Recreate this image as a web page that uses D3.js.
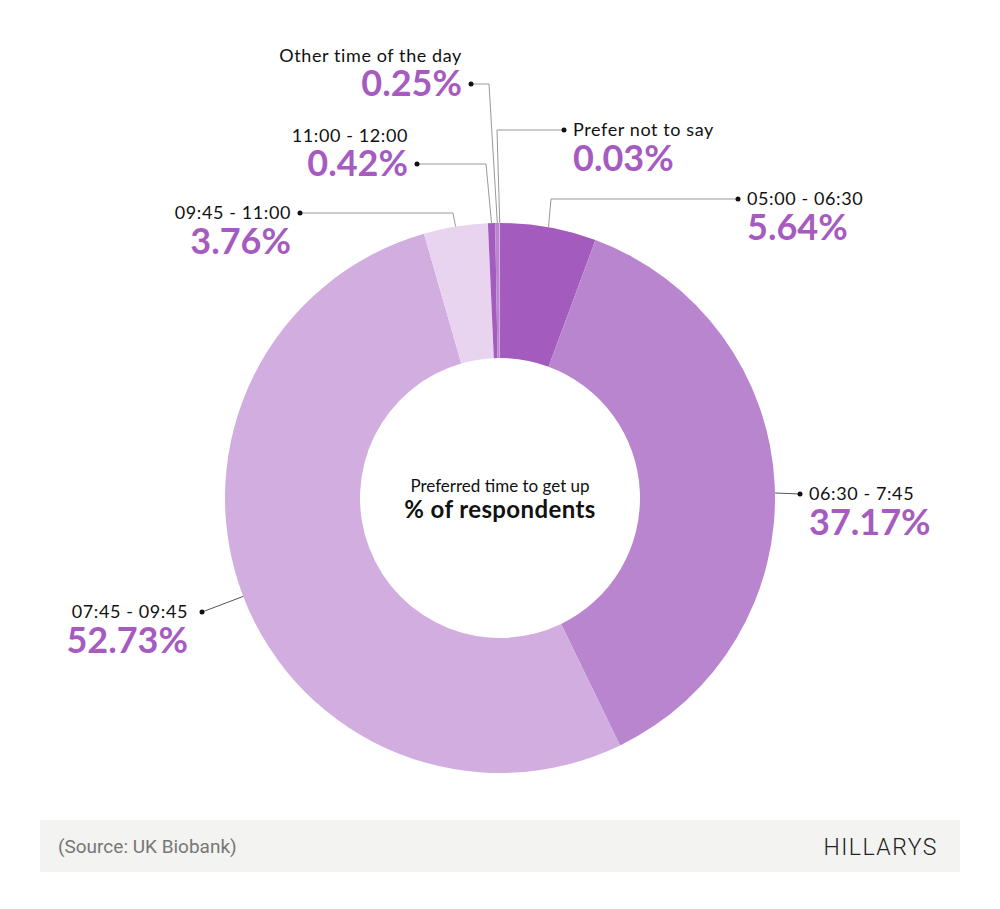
<!DOCTYPE html>
<html>
<head>
<meta charset="utf-8">
<script src="https://cdn.jsdelivr.net/npm/d3@7"></script>
<style>
  body { margin: 0; background: #fff; }
  text { font-family: Lato, "Open Sans", sans-serif; }
</style>
</head>
<body>
<div id="chart"></div>
<script>
const categories = ['05:00 - 06:30', '06:30 - 7:45', '07:45 - 09:45', '09:45 - 11:00', '11:00 - 12:00', 'Other time of the day', 'Prefer not to say'];
const shares = [5.64, 37.17, 52.73, 3.76, 0.42, 0.25, 0.03];
const sliceColors = ['#a45bbe', '#b985cf', '#d2ade0', '#e8d4ef', '#a45bbe', '#b985cf', '#d2ade0'];

// where each label sits: dot position, elbow, side, and whether the dot lines up with the name or the percentage
const labelLayout = [
  { dot: [738, 199], elbow: [551, 199], side: 'right', dotOn: 'name' },
  { dot: [800, 494], elbow: null, side: 'right', dotOn: 'name', at: 0.513 },
  { dot: [202, 612], elbow: null, side: 'left', dotOn: 'name', gap: 14 },
  { dot: [300, 213], elbow: [453, 213], side: 'left', dotOn: 'name' },
  { dot: [417, 164], elbow: [486, 164], side: 'left', dotOn: 'pct' },
  { dot: [471, 84], elbow: [489, 84], side: 'left', dotOn: 'pct' },
  { dot: [564, 130], elbow: [497, 130], side: 'right', dotOn: 'name' }
];

const width = 1000, height = 909;
const cx = 500, cy = 498, outerR = 275, innerR = 140;
const pctColor = '#a55bbf';

const svg = d3.select('#chart').append('svg').attr('width', width).attr('height', height);

const pie = d3.pie().sort(null).value(d => d);
const arcs = pie(shares);
const arc = d3.arc().innerRadius(innerR).outerRadius(outerR);

const g = svg.append('g').attr('transform', `translate(${cx},${cy})`);
g.selectAll('path')
  .data(arcs)
  .enter()
  .append('path')
  .attr('d', arc)
  .attr('fill', (d, i) => sliceColors[i]);

// leader lines and labels
arcs.forEach((d, i) => {
  const lay = labelLayout[i];
  const t = lay.at === undefined ? 0.5 : lay.at;
  const a = d.startAngle + (d.endAngle - d.startAngle) * t;
  const start = [cx + outerR * Math.sin(a), cy - outerR * Math.cos(a)];
  const pts = [start];
  if (lay.elbow) pts.push(lay.elbow);
  pts.push(lay.dot);
  svg.append('path')
    .attr('d', d3.line()(pts))
    .attr('fill', 'none')
    .attr('stroke', i === 1 || i === 2 ? '#555' : '#999')
    .attr('stroke-width', 1);
  svg.append('circle')
    .attr('cx', lay.dot[0]).attr('cy', lay.dot[1]).attr('r', 2.5)
    .attr('fill', '#111');

  const right = lay.side === 'right';
  const gap = lay.gap || 9;
  const tx = right ? lay.dot[0] + gap : lay.dot[0] - gap;
  const anchor = right ? 'start' : 'end';
  const nameY = lay.dotOn === 'pct' ? lay.dot[1] - 22 : lay.dot[1] + 6;
  const pctY = lay.dotOn === 'pct' ? lay.dot[1] + 12 : lay.dot[1] + 41;
  svg.append('text')
    .attr('x', tx).attr('y', nameY)
    .attr('text-anchor', anchor)
    .attr('font-size', 18)
    .attr('fill', '#111')
    .style('letter-spacing', '0.6px')
    .text(categories[i]);
  svg.append('text')
    .attr('x', tx).attr('y', pctY)
    .attr('text-anchor', anchor)
    .attr('font-size', 36)
    .attr('font-weight', 700)
    .attr('fill', pctColor)
    .text(shares[i].toFixed(2) + '%');
});

// centre title
svg.append('text')
  .attr('x', cx).attr('y', 492)
  .attr('text-anchor', 'middle')
  .attr('font-size', 17)
  .attr('fill', '#111')
  .text('Preferred time to get up');
svg.append('text')
  .attr('x', cx).attr('y', 518)
  .attr('text-anchor', 'middle')
  .attr('font-size', 24)
  .attr('font-weight', 700)
  .attr('fill', '#111')
  .style('letter-spacing', '0.4px')
  .text('% of respondents');

// footer
svg.append('rect')
  .attr('x', 40).attr('y', 820).attr('width', 920).attr('height', 52)
  .attr('fill', '#f3f3f1');
svg.append('text')
  .attr('x', 58).attr('y', 853)
  .attr('font-size', 19)
  .attr('fill', '#777')
  .style('font-family', 'Roboto')
  .text('(Source: UK Biobank)');
svg.append('text')
  .attr('x', 938).attr('y', 855)
  .attr('text-anchor', 'end')
  .attr('font-size', 23)
  .attr('font-weight', 300)
  .attr('fill', '#222')
  .style('font-family', 'Roboto')
  .style('letter-spacing', '1.5px')
  .text('HILLARYS');
</script>
</body>
</html>
